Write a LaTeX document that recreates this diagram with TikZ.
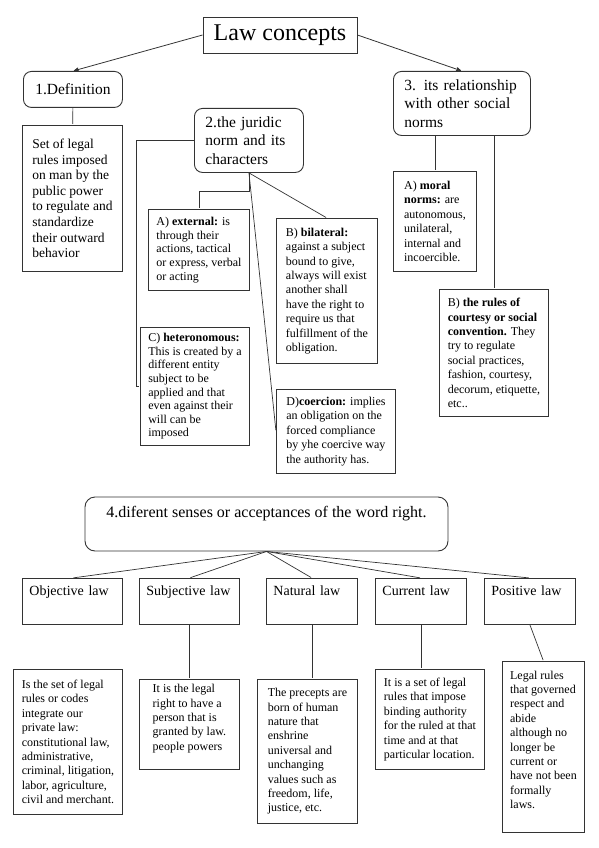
\documentclass[tikz,border=0pt]{standalone}
\usepackage{fontspec}
\setmainfont{Liberation Serif}
\usetikzlibrary{arrows}

\begin{document}
\begin{tikzpicture}[x=1pt, y=-1pt, >=stealth', shorten >=1pt, semithick]

        \tikzstyle{rootbox}=[draw=black!80, line width=0.9pt, font=\fontsize{24}{28}\selectfont, minimum width=154pt, minimum height=36pt, inner sep=0pt]
        \tikzstyle{topicbox}=[draw=black!80, line width=0.9pt, rounded corners=8pt, anchor=north west, align=left, inner xsep=11pt, inner ysep=3pt, font=\fontsize{15.5}{18.5}\selectfont]
        \tikzstyle{notebox}=[draw=black!80, line width=0.9pt, anchor=north west, align=left, inner sep=4pt, font=\fontsize{12}{14.4}\selectfont]
        \tikzstyle{sensebox}=[draw=black!80, line width=0.9pt, rounded corners=10pt, minimum width=363pt, inner ysep=4pt, text height=16pt, text depth=30pt, font=\fontsize{16}{19}\selectfont]
        \tikzstyle{kindbox}=[draw=black!80, line width=0.9pt, anchor=north west, align=left, inner xsep=7pt, inner ysep=4pt, text height=13pt, text depth=25pt, font=\fontsize{14}{16}\selectfont]
        \tikzstyle{wire}=[draw=black!80, line width=0.7pt]

        \useasboundingbox (0,0) rectangle (599,848);

        % law concepts and its three branches
        \node[rootbox]  (law)    at (280,35)  {Law concepts};
        \node[topicbox, align=center, text width=77pt, minimum height=36pt] (def) at (23,71) {1.Definition};
        \node[topicbox, text width=87pt, minimum height=64pt]  (jur) at (194,108) {2.the juridic\\ norm and its\\ characters};
        \node[topicbox, text width=115pt, minimum height=64pt] (rel) at (393,71)  {3. its relationship\\ with other social\\ norms};

        \node[notebox, font=\fontsize{13.5}{15.6}\selectfont, minimum width=100pt, minimum height=146pt] (deftxt) at (22,125)
            {Set of legal\\ rules imposed\\ on man by the\\ public power\\ to regulate and\\ standardize\\ their outward\\ behavior};

        % characters of the juridic norm
        \node[notebox, font=\fontsize{12}{13.75}\selectfont, minimum width=101pt, minimum height=81pt] (ext) at (148,209)
            {A) \textbf{external:} is\\ through their\\ actions, tactical\\ or express, verbal\\ or acting};
        \node[notebox, minimum width=101pt, minimum height=145pt] (bil) at (276,218)
            {B) \textbf{bilateral:}\\ against a subject\\ bound to give,\\ always will exist\\ another shall\\ have the right to\\ require us that\\ fulfillment of the\\ obligation.};
        \node[notebox, font=\fontsize{12}{13.6}\selectfont, minimum width=109pt, minimum height=118pt] (het) at (140,327)
            {C) \textbf{heteronomous:}\\ This is created by a\\ different entity\\ subject to be\\ applied and that\\ even against their\\ will can be\\ imposed};
        \node[notebox, minimum width=119pt, minimum height=84pt] (coe) at (276,389)
            {D)\textbf{coercion:} implies\\ an obligation on the\\ forced compliance\\ by yhe coercive way\\ the authority has.};

        % other social norms
        \node[notebox, minimum width=83pt, minimum height=100pt] (mor) at (393,171)
            {A) \textbf{moral}\\ \textbf{norms:} are\\ autonomous,\\ unilateral,\\ internal and\\ incoercible.};
        \node[notebox, minimum width=109pt, minimum height=127pt] (cou) at (439,289)
            {B) \textbf{the rules of}\\ \textbf{courtesy or social}\\ \textbf{convention.} They\\ try to regulate\\ social practices,\\ fashion, courtesy,\\ decorum, etiquette,\\ etc..};

        % senses of the word right
        \node[sensebox] (sen) at (266.5,524) {4.diferent senses or acceptances of the word right.};

        \node[kindbox, text width=86pt] (obj) at (22,578)  {Objective law};
        \node[kindbox, text width=86pt] (sub) at (139,578) {Subjective law};
        \node[kindbox, text width=77pt] (nat) at (266,578) {Natural law};
        \node[kindbox, text width=77pt] (cur) at (375,578) {Current law};
        \node[kindbox, text width=77pt] (pos) at (484,578) {Positive law};

        \node[notebox, minimum width=109pt, minimum height=145pt] (objtxt) at (13,669)
            {Is the set of legal\\ rules or codes\\ integrate our\\ private law:\\ constitutional law,\\ administrative,\\ criminal, litigation,\\ labor, agriculture,\\ civil and merchant.};
        \node[notebox, minimum width=100pt, minimum height=90pt] (subtxt) at (139,679)
            {It is the legal\\ right to have a\\ person that is\\ granted by law.\\ people powers\\ \mbox{}};
        \node[notebox, minimum width=100pt, minimum height=144pt] (nattxt) at (257,679)
            {The precepts are\\ born of human\\ nature that\\ enshrine\\ universal and\\ unchanging\\ values such as\\ freedom, life,\\ justice, etc.};
        \node[notebox, minimum width=109pt, minimum height=100pt] (curtxt) at (375,669)
            {It is a set of legal\\ rules that impose\\ binding authority\\ for the ruled at that\\ time and at that\\ particular location.};
        \node[notebox, minimum width=82pt, minimum height=171pt] (postxt) at (502,661)
            {Legal rules\\ that governed\\ respect and\\ abide\\ although no\\ longer be\\ current or\\ have not been\\ formally\\ laws.\\ \mbox{}};

        \draw[wire, ->, line width=0.8pt] (law.west) -- (def.north);
        \draw[wire, ->, line width=0.8pt] (law.east) -- (rel.north);

        \path[wire]
        (def)       edge (deftxt)
        (jur.south) edge (bil.north)
        (jur.south) edge (coe.west)
        (mor.north |- rel.south) edge (mor.north)
        (cou.north |- rel.south) edge (cou.north)
        (sen.south) edge (obj.north)
        (sen.south) edge (sub.north)
        (sen.south) edge (nat.north)
        (sen.south) edge (cur.north)
        (sen.south) edge (pos.north)
        (sub)       edge (subtxt)
        (nat.south) edge (nat.south |- nattxt.north)
        (cur.south) edge (cur.south |- curtxt.north)
        (pos.south) edge (postxt.north)
    ;
        \draw[wire] (jur.south) -- ++(0,18) -| (ext.north);
        \draw[wire] (jur.west) -- ++(-58,0) |- (het.west);
    \end{tikzpicture}
\end{document}
